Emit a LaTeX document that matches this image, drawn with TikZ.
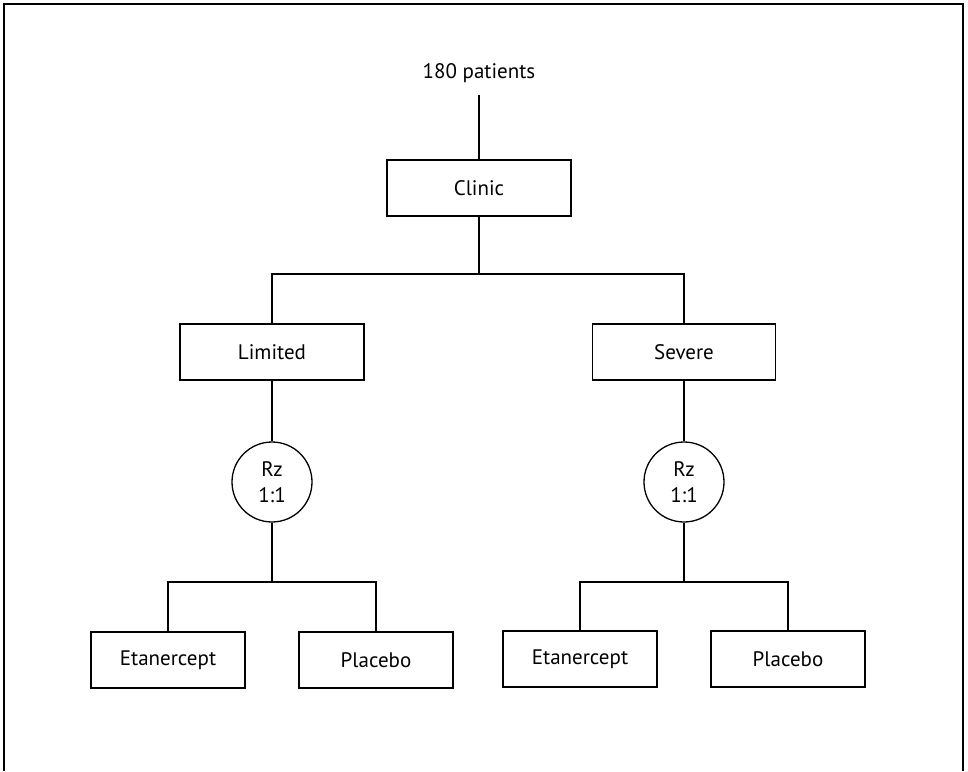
\documentclass[tikz,border=0pt]{standalone}
\usepackage{fontspec}
\setmainfont{PT Sans}
\begin{document}
\begin{tikzpicture}[x=1pt,y=-1pt,
  line width=1.3pt,
  box/.style={draw, minimum height=56pt, inner sep=0pt, font=\fontsize{21}{23}\selectfont},
  rz/.style={draw, circle, minimum size=80pt, inner sep=0pt, align=center, font=\fontsize{21}{26}\selectfont},
  lbl/.style={font=\fontsize{21}{23}\selectfont, inner sep=2pt}]
\useasboundingbox (0,0) rectangle (968,771);
\draw[line width=1.6pt] (4,771) -- (4,4) -- (963,4) -- (963,771);
\node[lbl] (pat) at (479,73) {180 patients};
\node[box, minimum width=184pt] (clinic) at (479,188) {Clinic};
\node[box, minimum width=184pt] (lim) at (272,352) {Limited};
\node[box, minimum width=183pt] (sev) at (684,352) {Severe};
\node[rz] (rzl) at (272,482) {Rz\\1:1};
\node[rz] (rzr) at (684,482) {Rz\\1:1};
\node[box, minimum width=154pt] (etl) at (168,660) {Etanercept};
\node[box, minimum width=154pt] (pll) at (376,660) {Placebo};
\node[box, minimum width=154pt] (etr) at (580,659) {Etanercept};
\node[box, minimum width=154pt] (plr) at (788,659) {Placebo};
\coordinate (top) at (479,95);
\coordinate (j1) at (479,274);
\coordinate (j2) at (272,582);
\coordinate (j3) at (684,582);
\draw (top) -- (clinic.north);
\draw (clinic.south) -- (j1);
\draw (lim.north) |- (j1) -| (sev.north);
\draw (lim.south) -- (rzl.north);
\draw (sev.south) -- (rzr.north);
\draw (rzl.south) -- (j2);
\draw (rzr.south) -- (j3);
\draw (etl.north) |- (j2) -| (pll.north);
\draw (etr.north) |- (j3) -| (plr.north);
\end{tikzpicture}
\end{document}
